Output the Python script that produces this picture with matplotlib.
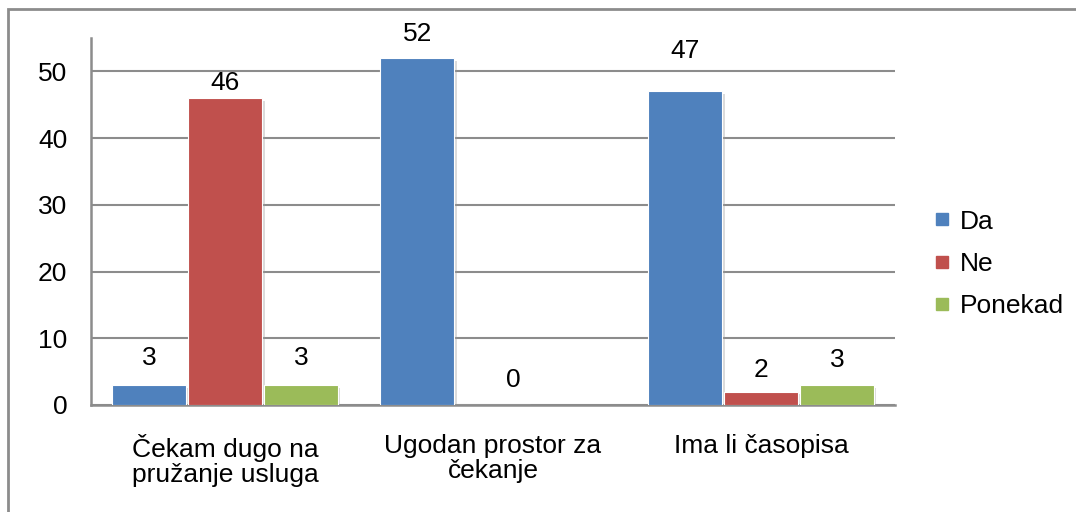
import numpy as np
import matplotlib
matplotlib.use("Agg")
import matplotlib.pyplot as plt
import matplotlib.patheffects as pe
from matplotlib.lines import Line2D
from matplotlib.patches import Rectangle

plt.rcParams['font.family'] = ['Liberation Sans', 'DejaVu Sans']

categories = ["Čekam dugo na\npružanje usluga", "Ugodan prostor za\nčekanje", "Ima li časopisa"]
series = ["Da", "Ne", "Ponekad"]
da = [3, 52, 47]
ne = [46, 0, 2]
ponekad = [3, np.nan, 3]
colors = ["#4F81BD", "#C0504D", "#9BBB59"]

# label offsets in pixels (dx, gap above bar top)
label_offsets = [
    [(0, 20), (0, 17), (0, 33)],
    [(0, 8), (20, 18), (0, 15)],
    [(0, 20), (0, 0), (0, 18)],
]

fs = 19

fig = plt.figure(figsize=(10.76, 5.12), dpi=100)
ax = fig.add_axes([91 / 1076, 1 - 405 / 512, (895 - 91) / 1076, (405 - 38) / 512])

# outer chart frame
fig.patches.append(Rectangle((8 / 1076, -0.05), 1.05, 1 - 9 / 512 + 0.05,
                             transform=fig.transFigure, fill=False,
                             edgecolor="#8c8c8c", linewidth=2, clip_on=False))

x = np.arange(len(categories))
width = 0.275
step = 0.283
shadow = [pe.SimplePatchShadow(offset=(2, -2), shadow_rgbFace="#999999", alpha=0.35), pe.Normal()]

for i, (vals, name) in enumerate(zip([da, ne, ponekad], series)):
    pos = x + (i - 1) * step
    bars = ax.bar(pos, vals, width, color=colors[i], edgecolor="white", linewidth=0.8,
                  label=name, zorder=3)
    for b in bars:
        b.set_path_effects(shadow)
    for j, v in enumerate(vals):
        if np.isnan(v):
            continue
        dx, gap = label_offsets[i][j]
        ax.annotate(f"{int(v)}", (pos[j], v), xytext=(dx, gap), textcoords="offset pixels",
                    ha="center", va="baseline", fontsize=fs, zorder=4)

ax.set_xlim(-0.5, 2.5)
ax.set_ylim(0, 55)
ax.set_yticks([0, 10, 20, 30, 40, 50])
ax.set_xticks(x)
ax.set_xticklabels(categories, fontsize=fs, linespacing=1.05)
ax.tick_params(axis="y", length=0, pad=17, labelsize=fs)
ax.tick_params(axis="x", length=0, pad=21)
ax.yaxis.grid(True, color="#8c8c8c", linewidth=1.5, zorder=0)
ax.set_axisbelow(True)
for s in ["top", "right"]:
    ax.spines[s].set_visible(False)
for s in ["left", "bottom"]:
    ax.spines[s].set_color("#8c8c8c")
    ax.spines[s].set_linewidth(1.8)

handles = [Line2D([], [], marker="s", linestyle="none", markersize=8, color=c) for c in colors]
fig.legend(handles, series, loc="center left", bbox_to_anchor=(931 / 1076, 1 - 264 / 512),
           frameon=False, fontsize=fs, handlelength=0.8, handletextpad=0.28,
           labelspacing=0.7, borderpad=0, borderaxespad=0)

fig.savefig("out.png", dpi=100)
